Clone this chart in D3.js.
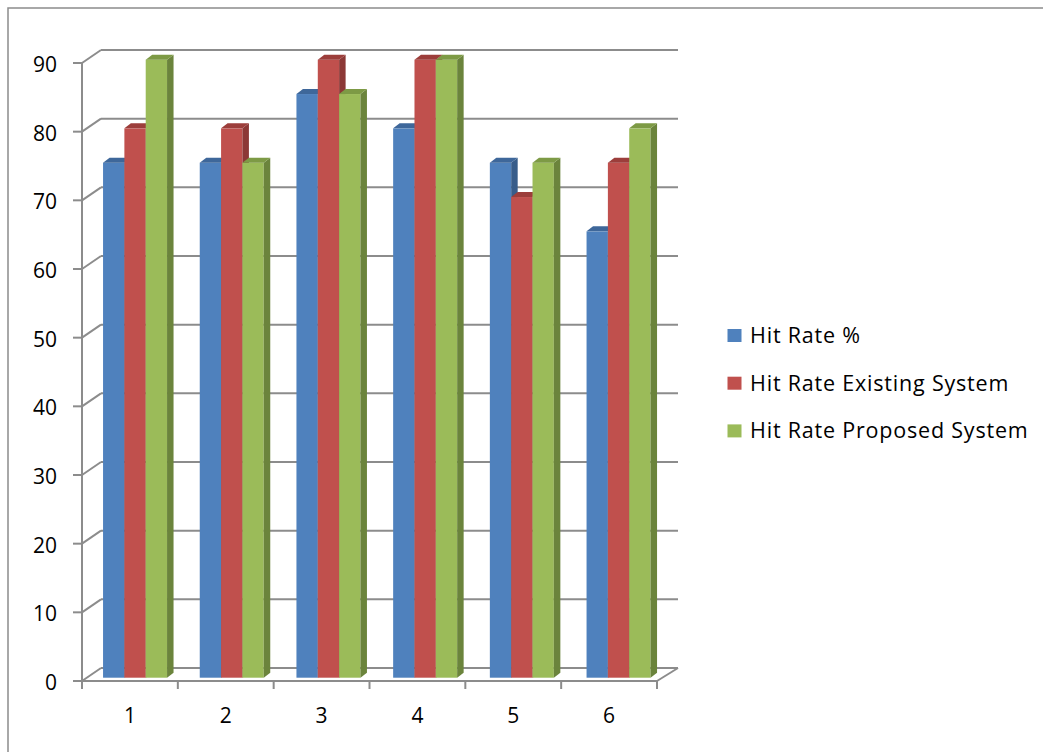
<!DOCTYPE html>
<html><head><meta charset="utf-8">
<script src="https://cdn.jsdelivr.net/npm/d3@7"></script>
<style>body{margin:0;background:#fff}svg{display:block}</style>
</head><body>
<svg id="c" width="1043" height="752"></svg>
<script>
const categories = ["1","2","3","4","5","6"];
const seriesNames = ["Hit Rate %","Hit Rate Existing System","Hit Rate Proposed System"];
const hitRate = [75,75,85,80,75,65];
const hitRateExisting = [80,80,90,90,70,75];
const hitRateProposed = [90,75,85,90,75,80];
const yTicks = [0,10,20,30,40,50,60,70,80,90];

const series = [hitRate, hitRateExisting, hitRateProposed];
const front = ["#4F81BD","#C0504D","#9BBB59"];
const side  = ["#385D8A","#8C3836","#6B843C"];
const top_  = ["#3E679A","#9C3E3B","#7D9A45"];

const svg = d3.select("#c");
const font = "'Open Sans', sans-serif";
const fs = 21;

svg.append("rect").attr("x",8).attr("y",8).attr("width",1040).attr("height",750)
  .attr("fill","none").attr("stroke","#8c8c8c").attr("stroke-width",1.5);

const yFront = d3.scaleLinear().domain([0,90]).range([681,63]);
const yBack  = d3.scaleLinear().domain([0,90]).range([668,50]);
const yBar   = d3.scaleLinear().domain([0,90]).range([677.7,59.7]);
const xFront = d3.scaleBand().domain(categories).range([82,657]);
const xBar   = d3.scaleBand().domain(categories).range([86.7,666.9]);
const xSub   = d3.scaleBand().domain([0,1,2]).range([0,64]);
const grid = "#8c8c8c";
const backL = 101, backR = 678;

const g = svg.append("g").attr("stroke",grid).attr("stroke-width",2).attr("fill","none");
yTicks.forEach(t=>{
  g.append("line").attr("x1",backL).attr("x2",backR).attr("y1",yBack(t)).attr("y2",yBack(t));
  g.append("line").attr("x1",82).attr("x2",backL).attr("y1",yFront(t)).attr("y2",yBack(t));
  g.append("line").attr("x1",73).attr("x2",82).attr("y1",yFront(t)).attr("y2",yFront(t));
});
g.append("line").attr("x1",82).attr("x2",82).attr("y1",yFront(90)).attr("y2",689);
g.append("line").attr("x1",82).attr("x2",657).attr("y1",yFront(0)).attr("y2",yFront(0));
g.append("line").attr("x1",657).attr("x2",backR).attr("y1",yFront(0)).attr("y2",yBack(0));
const bounds = categories.map(c=>xFront(c)).concat([xFront.range()[1]]);
bounds.forEach(x=>{
  g.append("line").attr("x1",x).attr("x2",x).attr("y1",yFront(0)).attr("y2",689);
});

const dx = 6.5, dy = 5;
const bars = svg.append("g");
categories.forEach((c,i)=>{
  series.forEach((s,k)=>{
    const x0 = xBar(c) + (xBar.bandwidth()-64)/2 + xSub(k);
    const x1 = x0 + xSub.bandwidth();
    const yt = yBar(s[i]), yb = yBar(0);
    bars.append("rect").attr("x",x0).attr("y",yt).attr("width",x1-x0).attr("height",yb-yt).attr("fill",front[k]);
    bars.append("path").attr("d",`M${x1},${yt}L${x1+dx},${yt-dy}L${x1+dx},${yb-dy}L${x1},${yb}Z`).attr("fill",side[k]);
    bars.append("path").attr("d",`M${x0},${yt}L${x0+dx},${yt-dy}L${x1+dx},${yt-dy}L${x1},${yt}Z`).attr("fill",top_[k]);
  });
});

svg.append("g").selectAll("text").data(yTicks).join("text")
  .attr("x",57).attr("y",d=>yFront(d)+1.5).attr("dy","0.35em").attr("text-anchor","end")
  .attr("font-family",font).attr("font-size",fs).attr("fill","#000").text(d=>d);
svg.append("g").selectAll("text").data(categories).join("text")
  .attr("x",d=>xFront(d)+xFront.bandwidth()/2).attr("y",715.5).attr("dy","0.35em").attr("text-anchor","middle")
  .attr("font-family",font).attr("font-size",fs).attr("fill","#000").text(d=>d);

const lg = svg.append("g");
seriesNames.forEach((n,k)=>{
  const y = 335.5 + k*47.7;
  lg.append("rect").attr("x",727.5).attr("y",y-6.5).attr("width",14).attr("height",13).attr("fill",front[k]);
  lg.append("text").attr("x",750).attr("y",y).attr("dy","0.35em").attr("font-family",font)
    .attr("font-size",21.5).attr("letter-spacing","0.8px").attr("fill","#000").text(n);
});
</script>
</body></html>
